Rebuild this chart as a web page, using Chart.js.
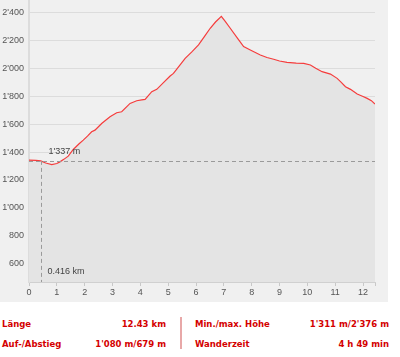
<!DOCTYPE html>
<html>
<head>
<meta charset="utf-8">
<script src="https://cdn.jsdelivr.net/npm/chart.js@4/dist/chart.umd.min.js"></script>
<style>
  html, body { margin: 0; padding: 0; background: #ffffff; }
  #wrap { position: relative; width: 400px; height: 357px; overflow: hidden; }
  #chartBox { position: absolute; left: 0; top: 0; width: 388px; height: 302px; background: #f0f0f0; }
  #c { position: absolute; left: 0; top: 0; }
  #info { position: absolute; left: 0; top: 302px; width: 400px; height: 55px;
          font-family: "DejaVu Sans", Verdana, sans-serif; font-size: 8.5px; font-weight: bold; color: #d40000; }
  .c { position: absolute; white-space: nowrap; line-height: 10px; }
  .r { text-align: right; }
  #sep { position: absolute; left: 180px; top: 15px; width: 2px; height: 32px; background: #e8a8a8; }
</style>
</head>
<body>
<div id="wrap">
  <div id="chartBox"><canvas id="c" width="376" height="302"></canvas></div>
  <div id="info">
    <div class="c" id="l1" style="left:2px; top:17px;"></div>
    <div class="c r" id="v1" style="right:234px; top:17px;"></div>
    <div class="c" id="l2" style="left:2px; top:37px;"></div>
    <div class="c r" id="v2" style="right:234px; top:37px;"></div>
    <div id="sep"></div>
    <div class="c" id="l3" style="left:195px; top:17px;"></div>
    <div class="c r" id="v3" style="right:11px; top:17px;"></div>
    <div class="c" id="l4" style="left:195px; top:37px;"></div>
    <div class="c r" id="v4" style="right:11px; top:37px;"></div>
  </div>
</div>
<script>
// ---- data ----
const kmValues = [0, 0.25, 0.42, 0.6, 0.82, 1.0, 1.11, 1.25, 1.41, 1.59, 1.8, 1.95, 2.1, 2.25, 2.37, 2.61, 2.91, 3.15, 3.33, 3.63, 3.87, 4.05, 4.17, 4.41, 4.59, 4.83, 5.07, 5.19, 5.4, 5.61, 5.85, 6.09, 6.3, 6.51, 6.7, 6.91, 7.05, 7.23, 7.5, 7.71, 7.95, 8.31, 8.55, 8.79, 9.0, 9.27, 9.6, 9.87, 10.11, 10.3, 10.53, 10.83, 11.07, 11.2, 11.37, 11.55, 11.79, 12.0, 12.15, 12.3, 12.43];
const elevValues = [1342, 1341, 1337, 1322, 1311, 1318, 1330, 1348, 1371, 1419, 1460, 1486, 1515, 1546, 1558, 1606, 1654, 1683, 1690, 1750, 1769, 1775, 1779, 1834, 1851, 1899, 1947, 1966, 2020, 2074, 2120, 2170, 2230, 2290, 2335, 2376, 2340, 2290, 2215, 2158, 2134, 2098, 2080, 2067, 2055, 2045, 2040, 2038, 2026, 2003, 1978, 1961, 1930, 1905, 1870, 1851, 1817, 1800, 1786, 1770, 1745];
const yTickValues = [600, 800, 1000, 1200, 1400, 1600, 1800, 2000, 2200, 2400];
const yTickLabels = ["600", "800", "1'000", "1'200", "1'400", "1'600", "1'800", "2'000", "2'200", "2'400"];
const xTickValues = [0, 1, 2, 3, 4, 5, 6, 7, 8, 9, 10, 11, 12, 12.43];
const xTickLabels = ["0", "1", "2", "3", "4", "5", "6", "7", "8", "9", "10", "11", "12", ""];
const markerKm = 0.416;
const markerElev = 1337;
const markerKmLabel = "0.416 km";
const markerElevLabel = "1'337 m";
const infoLabels = ["Länge", "Auf-/Abstieg", "Min./max. Höhe", "Wanderzeit"];
const infoValues = ["12.43 km", "1'080 m/679 m", "1'311 m/2'376 m", "4 h 49 min"];

["l1","l2","l3","l4"].forEach((id, i) => document.getElementById(id).textContent = infoLabels[i]);
["v1","v2","v3","v4"].forEach((id, i) => document.getElementById(id).textContent = infoValues[i]);

const points = kmValues.map((k, i) => ({ x: k, y: elevValues[i] }));
const tickFont = { family: "'Liberation Sans', Arial, sans-serif", size: 9 };

const markerPlugin = {
  id: 'marker',
  afterDatasetsDraw(chart) {
    const { ctx, chartArea, scales } = chart;
    const px = scales.x.getPixelForValue(markerKm);
    const py = scales.y.getPixelForValue(markerElev);
    ctx.save();
    ctx.strokeStyle = '#9a9a9a';
    ctx.lineWidth = 1;
    ctx.setLineDash([4, 3]);
    ctx.beginPath();
    ctx.moveTo(chartArea.left, Math.round(py) + 0.5);
    ctx.lineTo(chartArea.right, Math.round(py) + 0.5);
    ctx.moveTo(Math.round(px) + 0.5, py);
    ctx.lineTo(Math.round(px) + 0.5, chartArea.bottom);
    ctx.stroke();
    ctx.setLineDash([]);
    ctx.fillStyle = '#444';
    ctx.font = "9px 'Liberation Sans', Arial, sans-serif";
    ctx.textBaseline = 'middle';
    ctx.fillText(markerElevLabel, px + 8, py - 9);
    ctx.fillText(markerKmLabel, px + 7, chartArea.bottom - 10);
    ctx.restore();
  }
};

new Chart(document.getElementById('c'), {
  type: 'line',
  data: {
    datasets: [{
      data: points,
      borderColor: 'rgb(245,60,60)',
      borderWidth: 1.2,
      backgroundColor: '#e4e4e4',
      fill: 'start',
      pointRadius: 0,
      tension: 0
    }]
  },
  options: {
    responsive: false,
    animation: false,
    devicePixelRatio: 1,
    layout: { padding: { left: 0, right: 1, top: 0, bottom: 0 } },
    plugins: { legend: { display: false }, tooltip: { enabled: false } },
    scales: {
      x: {
        type: 'linear',
        min: 0,
        max: 12.43,
        afterBuildTicks: s => { s.ticks = xTickValues.map(v => ({ value: v })); },
        afterFit: s => { s.height = 20; s.paddingLeft = 0; s.paddingRight = 0; },
        ticks: {
          autoSkip: false,
          maxRotation: 0,
          padding: 1,
          color: '#555',
          font: tickFont,
          callback: (v, i) => xTickLabels[i]
        },
        grid: { drawOnChartArea: false, drawTicks: true, tickLength: 4, color: '#c8c8c8' },
        border: { color: '#d0d0d0', width: 1 }
      },
      y: {
        type: 'linear',
        min: 467,
        max: 2493,
        afterBuildTicks: s => { s.ticks = yTickValues.map(v => ({ value: v })); },
        afterFit: s => { s.width = 29; s.paddingTop = 0; s.paddingBottom = 0; },
        ticks: {
          padding: 5,
          color: '#555',
          font: tickFont,
          callback: (v, i) => yTickLabels[i]
        },
        grid: { drawTicks: false, color: '#dcdcdc', lineWidth: 1 },
        border: { color: '#dcdcdc', width: 2 }
      }
    }
  },
  plugins: [markerPlugin]
});
</script>
</body>
</html>
